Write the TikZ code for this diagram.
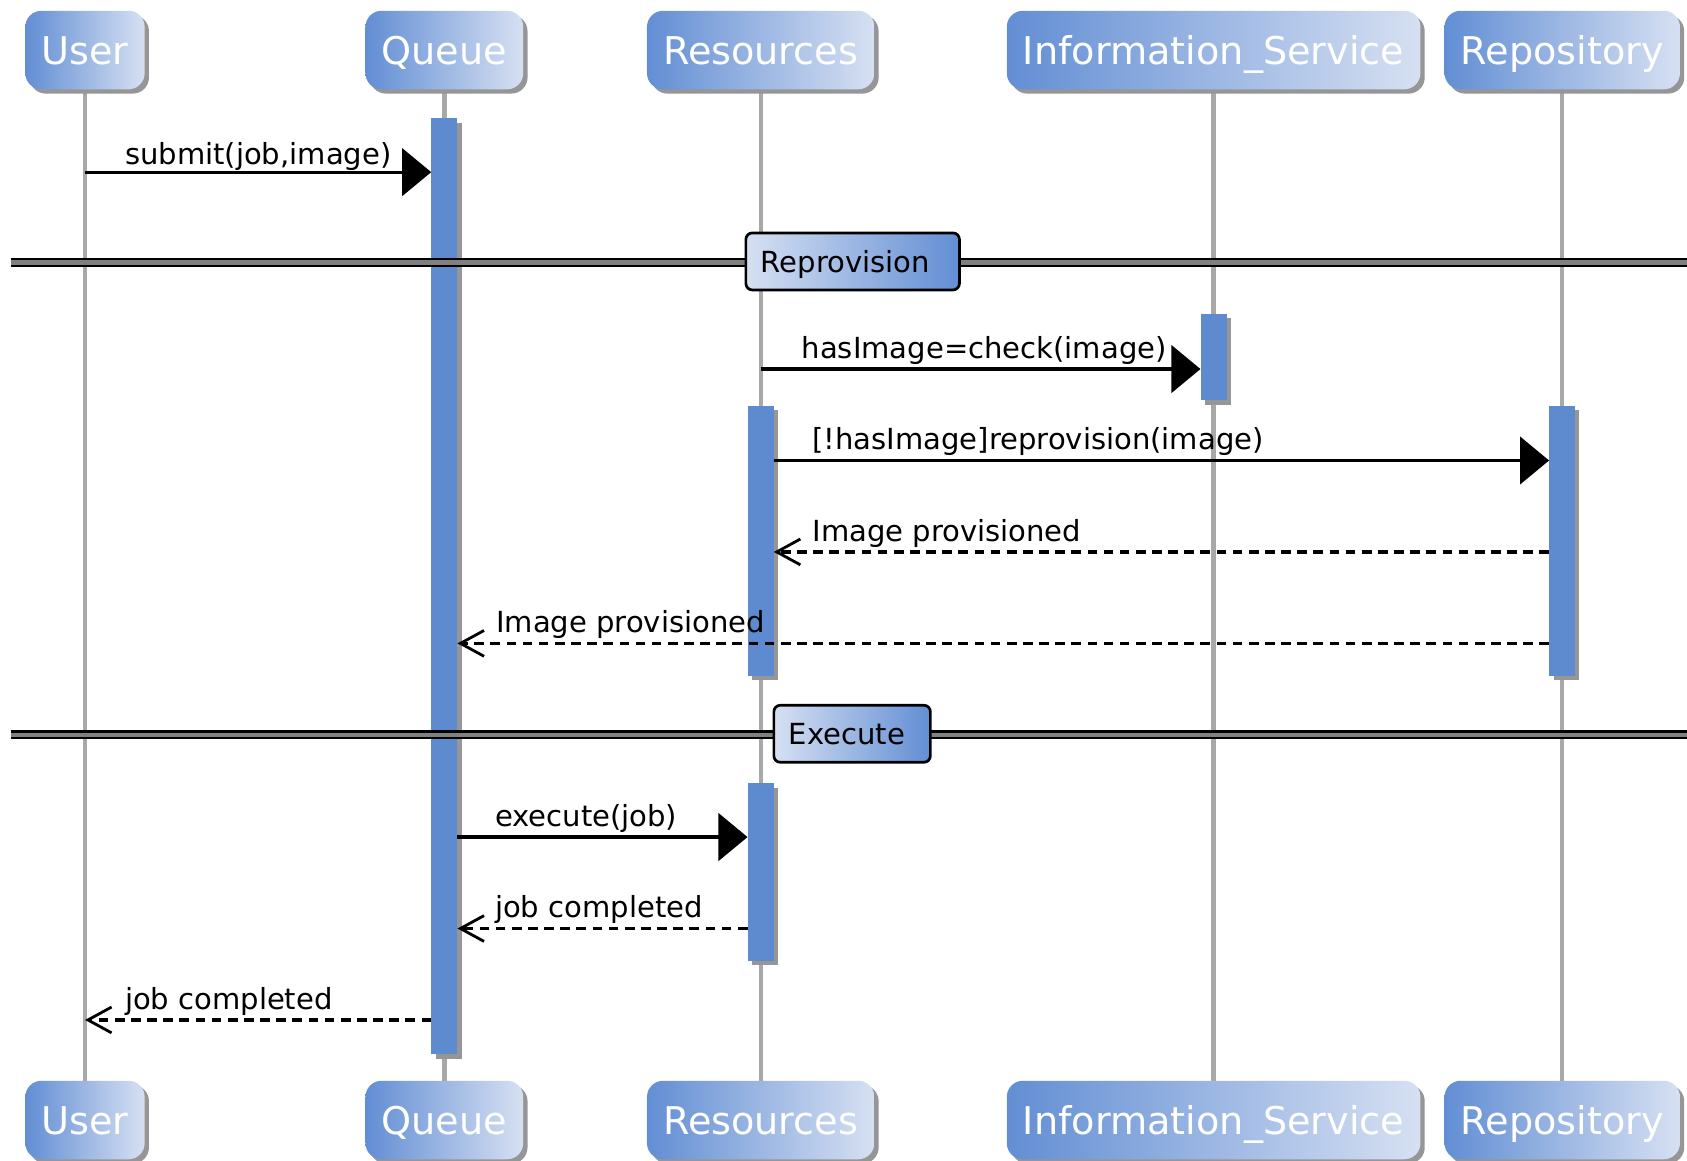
\documentclass[tikz,border=0pt]{standalone}
\usepackage{fontspec}
\setmainfont{DejaVu Sans}
\usetikzlibrary{arrows.meta,shadows,backgrounds}
\definecolor{headdark}{RGB}{98,142,212}
\definecolor{headlight}{RGB}{214,224,242}
\definecolor{barblue}{RGB}{94,139,208}
\definecolor{lifegray}{RGB}{168,168,168}
\definecolor{shadowgray}{RGB}{150,150,150}
\newcommand\headfnt{\fontsize{35.5}{40}\selectfont}
\newcommand\lblfnt{\fontsize{27}{32}\selectfont}
\begin{document}
\begin{tikzpicture}[x=1pt,y=-1pt,
  head/.style={rounded corners=15pt, minimum height=73pt, inner xsep=15pt, inner ysep=0pt,
    text height=26pt, text depth=0pt,
    left color=headdark, right color=headlight, text=white, font=\headfnt,
    drop shadow={shadow xshift=4pt, shadow yshift=-4pt, fill=shadowgray, opacity=1}},
  actbar/.style={fill=barblue, minimum width=24pt, inner sep=0pt, draw=none,
    drop shadow={shadow xshift=4pt, shadow yshift=-4pt, fill=shadowgray, opacity=1}},
  life/.style={draw=lifegray, line width=4pt},
  sepline/.style={draw=black, line width=2.4pt, double=gray, double distance=3.8pt},
  sepbox/.style={draw=black, line width=2.5pt, rounded corners=6pt, left color=headlight,
    right color=headdark, align=left, inner xsep=14pt, inner ysep=0pt, minimum height=53pt,
    font=\lblfnt, text height=20pt, text depth=0pt},
  lbl/.style={font=\lblfnt, anchor=base west, inner sep=0pt},
  msg/.style={line width=3pt, -{Triangle[length=27pt,width=44pt]}},
  ret/.style={line width=3pt, dash pattern=on 9pt off 6pt,
    -{Straight Barb[length=22pt,width=24pt,line width=2.6pt]}}
]
\useasboundingbox (0,0) rectangle (1568,1079);

% participants (top)
\node[head] (hUser) at (79,46.5) {User};
\node[head] (hQueue) at (413,46.5) {Queue};
\node[head] (hRes) at (707,46.5) {Resources};
\node[head] (hInfo) at (1128,46.5) {Information\_Service};
\node[head] (hRepo) at (1452,46.5) {Repository};
% participants (bottom)
\node[head] (fUser) at (79,1041) {User};
\node[head] (fQueue) at (413,1041) {Queue};
\node[head] (fRes) at (707,1041) {Resources};
\node[head] (fInfo) at (1128,1041) {Information\_Service};
\node[head] (fRepo) at (1452,1041) {Repository};

\begin{scope}[on background layer]
\fill[white] (0,0) rectangle (1568,1079);
\draw[life] (hUser) -- (fUser);
\draw[life] (hQueue) -- (fQueue);
\draw[life] (hRes) -- (fRes);
\draw[life] (hInfo) -- (fInfo);
\draw[life] (hRepo) -- (fRepo);
\end{scope}

% activation bars
\node[actbar, minimum height=870pt] (qbar) at (413,545) {};
\node[actbar, minimum height=80pt] (ibar) at (1128,332) {};
\node[actbar, minimum height=251pt] (rbar1) at (707,502.5) {};
\node[actbar, minimum height=251pt] (pbar) at (1452,502.5) {};
\node[actbar, minimum height=165pt] (rbar2) at (707,810.5) {};

% separators
\coordinate (s1L) at (10,244);
\coordinate (s1R) at (1568,244);
\draw[sepline] (s1L) -- (s1R);
\node[sepbox, text width=170.5pt] (sRep) at (792.5,243) {Reprovision};
\coordinate (s2L) at (10,683);
\coordinate (s2R) at (1568,683);
\draw[sepline] (s2L) -- (s2R);
\node[sepbox, text width=117.5pt] (sExe) at (792,682) {Execute};

% message rows
\coordinate (m1) at (0,160);
\coordinate (m2) at (0,343);
\coordinate (m3) at (0,428);
\coordinate (m4) at (0,513);
\coordinate (m5) at (0,598);
\coordinate (m6) at (0,778);
\coordinate (m7) at (0,863);
\coordinate (m8) at (0,948);

\draw[msg] (hUser |- m1) -- (qbar.west |- m1);
\draw[msg] (hRes |- m2) -- (ibar.west |- m2);
\draw[msg] (rbar1.east |- m3) -- (pbar.west |- m3);
\draw[ret] (pbar.west |- m4) -- (rbar1.east |- m4);
\draw[ret] (pbar.west |- m5) -- (qbar.east |- m5);
\draw[msg] (qbar.east |- m6) -- (rbar2.west |- m6);
\draw[ret] (rbar2.west |- m7) -- (qbar.east |- m7);
\draw[ret] (qbar.west |- m8) -- (hUser |- m8);

% labels
\node[lbl] (t1) at (116,153) {submit(job,image)};
\node[lbl] (t2) at (745,333) {hasImage=check(image)};
\node[lbl] (t3) at (755,418) {[!hasImage]reprovision(image)};
\node[lbl] (t4) at (755,503) {Image provisioned};
\node[lbl] (t5) at (461,588) {Image provisioned};
\node[lbl] (t6) at (460,768) {execute(job)};
\node[lbl] (t7) at (460,853) {job completed};
\node[lbl] (t8) at (116,938) {job completed};
\end{tikzpicture}
\end{document}
